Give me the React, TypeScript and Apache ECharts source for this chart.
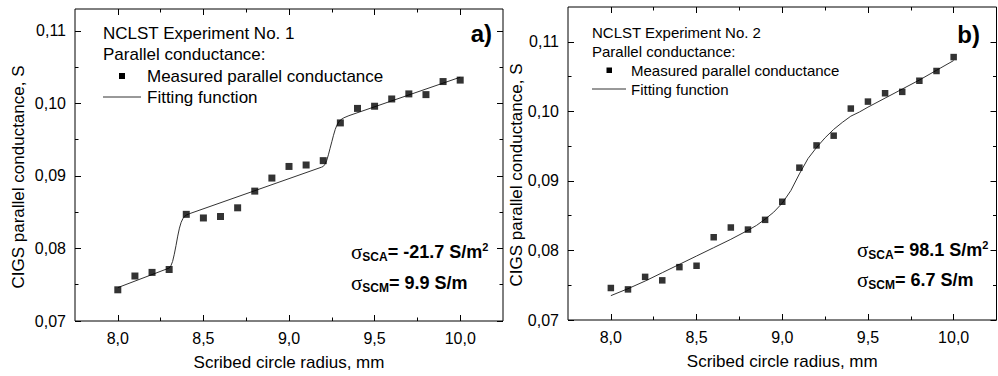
import React, { useEffect, useRef } from "react";
import * as echarts from "echarts";

// ---- data ----
const radius = [8.0, 8.1, 8.2, 8.3, 8.4, 8.5, 8.6, 8.7, 8.8, 8.9, 9.0, 9.1, 9.2, 9.3, 9.4, 9.5, 9.6, 9.7, 9.8, 9.9, 10.0];
const measuredA = [0.0743, 0.0762, 0.0767, 0.0771, 0.0847, 0.0842, 0.0844, 0.0856, 0.0879, 0.0897, 0.0913, 0.0915, 0.0921, 0.0973, 0.0993, 0.0996, 0.1006, 0.1013, 0.1012, 0.1030, 0.1032];
const measuredB = [0.0746, 0.0744, 0.0762, 0.0757, 0.0776, 0.0778, 0.0819, 0.0833, 0.0830, 0.0844, 0.0870, 0.0919, 0.0951, 0.0965, 0.1004, 0.1014, 0.1026, 0.1028, 0.1044, 0.1058, 0.1078];

const fitAX = [8.0, 8.30, 8.31, 8.32, 8.33, 8.34, 8.35, 8.36, 8.37, 8.38, 8.39, 8.40, 8.42, 9.19, 9.20, 9.21, 9.22, 9.23, 9.24, 9.25, 9.26, 9.27, 9.28, 9.29, 9.30, 9.32, 9.35, 10.0];
const fitAY = [0.0746, 0.0773, 0.0776, 0.0782, 0.0792, 0.0804, 0.0817, 0.0828, 0.0836, 0.0841, 0.0844, 0.0846, 0.0848, 0.0912, 0.0913, 0.0916, 0.0921, 0.0929, 0.0938, 0.0947, 0.0956, 0.0964, 0.0970, 0.0974, 0.0977, 0.0980, 0.0983, 0.1036];

const fitBX = [8.0, 8.1, 8.2, 8.3, 8.4, 8.5, 8.6, 8.7, 8.8, 8.85, 8.9, 8.95, 9.0, 9.05, 9.1, 9.15, 9.2, 9.25, 9.3, 9.35, 9.4, 9.45, 9.5, 9.6, 9.7, 9.8, 9.9, 10.0];
const fitBY = [0.0735, 0.0745, 0.0756, 0.0768, 0.0780, 0.0792, 0.0804, 0.0816, 0.0829, 0.0836, 0.0845, 0.0855, 0.0868, 0.0886, 0.0910, 0.0932, 0.0948, 0.0962, 0.0974, 0.0984, 0.0993, 0.0999, 0.1006, 0.1019, 0.1032, 0.1045, 0.1059, 0.1073];

const xMajor = [8.0, 8.5, 9.0, 9.5, 10.0];
const xMinor = [8.25, 8.75, 9.25, 9.75];
const yMajor = [0.07, 0.08, 0.09, 0.10, 0.11];
const yMinor = [0.075, 0.085, 0.095, 0.105];

const FONT = "'Liberation Sans', Arial, sans-serif";

function xAxes(gridIndex: number, withName: boolean) {
  const base = { type: "value", gridIndex, min: 7.75, max: 10.25, splitLine: { show: false }, axisLine: { show: false } };
  const tick = (vals: number[], len: number) => ({ show: true, inside: true, length: len, customValues: vals, lineStyle: { color: "#000", width: 1 } });
  return [
    {
      ...base, position: "bottom", axisTick: tick(xMajor, 6),
      axisLabel: { customValues: xMajor, formatter: (v: number) => v.toFixed(1).replace(".", ","), color: "#000", fontSize: 16, fontFamily: FONT, margin: 9 },
      name: withName ? "Scribed circle radius, mm" : "", nameLocation: "middle", nameGap: 33,
      nameTextStyle: { color: "#000", fontSize: 17, fontFamily: FONT },
    },
    { ...base, position: "top", axisTick: tick(xMajor, 6), axisLabel: { show: false } },
    { ...base, position: "bottom", axisTick: tick(xMinor, 3.5), axisLabel: { show: false } },
    { ...base, position: "top", axisTick: tick(xMinor, 3.5), axisLabel: { show: false } },
  ];
}

function yAxes(gridIndex: number, max: number) {
  const base = { type: "value", gridIndex, min: 0.07, max, splitLine: { show: false }, axisLine: { show: false } };
  const tick = (vals: number[], len: number) => ({ show: true, inside: true, length: len, customValues: vals, lineStyle: { color: "#000", width: 1 } });
  return [
    {
      ...base, position: "left", axisTick: tick(yMajor, 6),
      axisLabel: { customValues: yMajor, formatter: (v: number) => v.toFixed(2).replace(".", ","), color: "#000", fontSize: 16, fontFamily: FONT, margin: 9 },
    },
    { ...base, position: "right", axisTick: tick(yMajor, 6), axisLabel: { show: false } },
    { ...base, position: "left", axisTick: tick(yMinor, 3.5), axisLabel: { show: false } },
    { ...base, position: "right", axisTick: tick(yMinor, 3.5), axisLabel: { show: false } },
  ];
}

function txt(x: number, y: number, text: string, size: number, extra: any = {}) {
  return {
    type: "text", x, y, silent: true,
    style: { text, fill: "#000", fontSize: size, fontFamily: FONT, align: "left", verticalAlign: "middle", ...extra },
  };
}

function sigma(x: number, y: number, sub: string, main: string, sup: string, size: number) {
  return {
    type: "text", x, y, silent: true,
    style: {
      text: `{s|σ}{sub|${sub}}{m|${main}}` + (sup ? `{sup|${sup}}` : ""),
      align: "left", verticalAlign: "middle", fill: "#000",
      rich: {
        s: { fontSize: size + 3, fontFamily: "'Liberation Serif', serif", lineHeight: 22, fill: "#000" },
        sub: { fontSize: size - 6, fontWeight: "bold", fontFamily: FONT, lineHeight: 12, verticalAlign: "bottom", fill: "#000" },
        m: { fontSize: size, fontWeight: "bold", fontFamily: FONT, lineHeight: 22, fill: "#000" },
        sup: { fontSize: size - 7, fontWeight: "bold", fontFamily: FONT, lineHeight: 12, verticalAlign: "top", fill: "#000" },
      },
    },
  };
}

export default function App() {
  const ref = useRef<HTMLDivElement>(null);
  useEffect(() => {
    if (!ref.current) return;
    const chart = echarts.init(ref.current, null, { renderer: "svg" });
    const pairs = (xs: number[], ys: number[]) => xs.map((x, i) => [x, ys[i]]);
    const option: any = {
      animation: false,
      backgroundColor: "#fff",
      grid: [
        { left: 75, top: 9, width: 428, height: 314, show: true, borderColor: "#000", borderWidth: 1, backgroundColor: "transparent" },
        { left: 568, top: 7, width: 428.5, height: 313, show: true, borderColor: "#000", borderWidth: 1, backgroundColor: "transparent" },
      ],
      xAxis: [...xAxes(0, true), ...xAxes(1, true)],
      yAxis: [...yAxes(0, 0.113), ...yAxes(1, 0.115)],
      series: [
        { type: "line", xAxisIndex: 0, yAxisIndex: 0, data: pairs(fitAX, fitAY), smooth: false, showSymbol: false, lineStyle: { color: "#333", width: 1 }, z: 2 },
        { type: "scatter", xAxisIndex: 0, yAxisIndex: 0, data: pairs(radius, measuredA), symbol: "rect", symbolSize: 7, itemStyle: { color: "#000" }, z: 3 },
        { type: "line", xAxisIndex: 4, yAxisIndex: 4, data: pairs(fitBX, fitBY), smooth: false, showSymbol: false, lineStyle: { color: "#333", width: 1 }, z: 2 },
        { type: "scatter", xAxisIndex: 4, yAxisIndex: 4, data: pairs(radius, measuredB), symbol: "rect", symbolSize: 6.5, itemStyle: { color: "#000" }, z: 3 },
      ],
      graphic: [
        // panel a
        txt(103, 33, "NCLST Experiment No. 1", 17),
        txt(103, 54, "Parallel conductance:", 17),
        { type: "rect", shape: { x: 119, y: 73, width: 6, height: 6 }, style: { fill: "#000" }, silent: true },
        txt(147, 76, "Measured parallel conductance", 17),
        { type: "line", shape: { x1: 103, y1: 97, x2: 141, y2: 97 }, style: { stroke: "#333", lineWidth: 1 }, silent: true },
        txt(147, 97, "Fitting function", 17),
        txt(492, 33, "a)", 24, { fontWeight: "bold", align: "right" }),
        sigma(351, 252, "SCA", "= -21.7 S/m", "2", 18),
        sigma(351, 283, "SCM", "= 9.9 S/m", "", 18),
        { type: "text", x: 18, y: 177, rotation: Math.PI / 2, silent: true,
          style: { text: "CIGS parallel conductance, S", fill: "#000", fontSize: 17, fontFamily: FONT, align: "center", verticalAlign: "middle" } },
        // panel b
        txt(592, 32, "NCLST Experiment No. 2", 15),
        txt(592, 51, "Parallel conductance:", 15),
        { type: "rect", shape: { x: 606.5, y: 67.5, width: 5.5, height: 5.5 }, style: { fill: "#000" }, silent: true },
        txt(631, 70, "Measured parallel conductance", 15),
        { type: "line", shape: { x1: 592, y1: 89, x2: 626, y2: 89 }, style: { stroke: "#333", lineWidth: 1 }, silent: true },
        txt(631, 89, "Fitting function", 15),
        txt(980, 34, "b)", 24, { fontWeight: "bold", align: "right" }),
        sigma(857, 250, "SCA", "= 98.1 S/m", "2", 18),
        sigma(857, 280, "SCM", "= 6.7 S/m", "", 18),
        { type: "text", x: 516, y: 175, rotation: Math.PI / 2, silent: true,
          style: { text: "CIGS parallel conductance, S", fill: "#000", fontSize: 17, fontFamily: FONT, align: "center", verticalAlign: "middle" } },
      ],
    };
    chart.setOption(option);
    return () => chart.dispose();
  }, []);
  return <div ref={ref} style={{ position: "fixed", left: 0, top: 0, width: 998, height: 376, background: "#fff" }} />;
}
